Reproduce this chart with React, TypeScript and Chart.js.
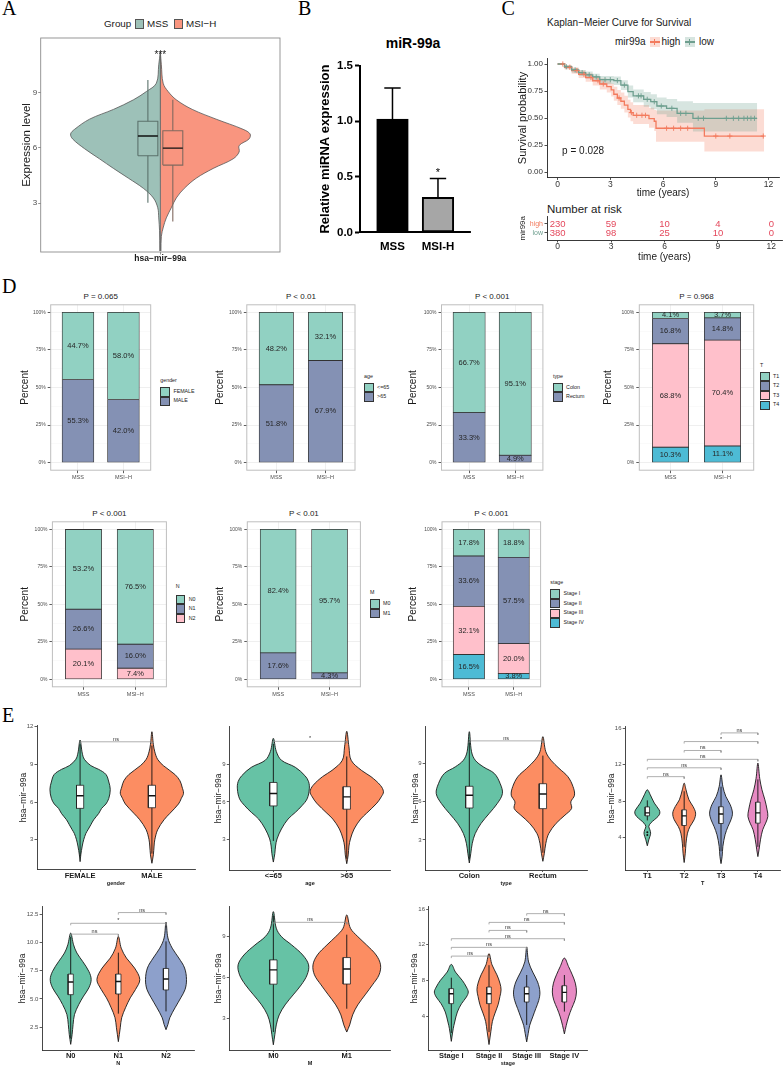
import React, { useEffect, useRef } from 'react';
import { Chart, registerables } from 'chart.js';

Chart.register(...registerables);

const SANS = '"Liberation Sans", Arial, Helvetica, sans-serif';
const SERIF = '"Liberation Serif", "Times New Roman", serif';
Chart.defaults.font.family = SANS;

/* ============================ DATA ============================ */
// ---- Panel A : split violin ----
const A_GROUPS = ['MSS', 'MSI\u2212H'];
const A_XLABEL = ['hsa\u2212mir\u221299a'];
const A_YTICKS = [3, 6, 9];
const A_MSS_Y = [0.4, 1.5, 2.2, 2.75, 3.28, 3.8, 4.35, 4.88, 5.4, 5.95, 6.48, 6.75, 7.0, 7.55, 8.08, 8.6, 9.05, 9.5, 10.5, 11.2];
const A_MSS_W = [0.3, 0.4, 0.8, 1.3, 3.5, 8.5, 16, 23.5, 30.5, 38, 44, 45, 43, 35.5, 23.5, 13.5, 7, 2, 0.8, 0];
const A_MSIH_Y = [0.4, 1.2, 1.7, 2.2, 2.75, 3.28, 3.8, 4.35, 4.88, 5.4, 5.77, 6.12, 6.48, 6.75, 7.0, 7.55, 8.08, 8.6, 9.05, 9.5, 10.5, 11.2];
const A_MSIH_W = [0.3, 0.5, 1.5, 3, 5.5, 8, 12, 18, 26.5, 36.5, 39.5, 39.5, 44.5, 45, 41.5, 28, 16, 8, 3.9, 1.4, 0.5, 0];
const A_BOX_MSS = [3.02, 5.57, 6.64, 7.44, 9.68]; // lo, q1, median, q3, hi
const A_BOX_MSIH = [2.0, 5.06, 5.98, 6.92, 8.6];
const A_SIG = '***';

// ---- Panel B : bar chart ----
const B_CATS = ['MSS', 'MSI-H'];
const B_MEAN = [1.02, 0.315];
const B_ERR = [0.28, 0.17];
const B_SIG = ['', '*'];
const B_YTICKS = [0, 0.5, 1.0, 1.5];

// ---- Panel C : Kaplan-Meier ----
const KM_XTICKS = [0, 3, 6, 9, 12];
const KM_YTICKS = [0, 0.25, 0.5, 0.75, 1.0];
const HIGH_T = [0, 0.4, 0.8, 1.2, 1.6, 2.0, 2.4, 2.8, 3.05, 3.2, 3.4, 3.6, 3.8, 4.0, 4.15, 4.3, 5.2, 5.5, 5.6, 8.35, 11.75];
const HIGH_S = [1.0, 0.97, 0.94, 0.905, 0.875, 0.845, 0.815, 0.79, 0.76, 0.72, 0.685, 0.655, 0.62, 0.58, 0.55, 0.525, 0.495, 0.47, 0.405, 0.333, 0.333];
const HIGH_U = [1.0, 0.99, 0.965, 0.94, 0.915, 0.89, 0.865, 0.84, 0.82, 0.79, 0.76, 0.735, 0.705, 0.67, 0.645, 0.62, 0.595, 0.575, 0.57, 0.58, 0.58];
const HIGH_L = [1.0, 0.95, 0.91, 0.87, 0.835, 0.8, 0.765, 0.735, 0.7, 0.66, 0.62, 0.585, 0.55, 0.505, 0.47, 0.445, 0.41, 0.38, 0.28, 0.19, 0.19];
const LOW_T = [0, 0.4, 0.8, 1.2, 1.6, 2.0, 2.4, 3.2, 3.6, 4.0, 4.3, 4.9, 5.3, 5.65, 6.2, 6.8, 7.7, 11.35];
const LOW_S = [1.0, 0.975, 0.945, 0.92, 0.9, 0.88, 0.855, 0.846, 0.805, 0.745, 0.705, 0.673, 0.651, 0.611, 0.59, 0.543, 0.497, 0.497];
const LOW_U = [1.0, 0.99, 0.965, 0.945, 0.93, 0.91, 0.89, 0.885, 0.85, 0.8, 0.765, 0.74, 0.72, 0.69, 0.675, 0.655, 0.64, 0.64];
const LOW_L = [1.0, 0.955, 0.92, 0.89, 0.865, 0.845, 0.815, 0.805, 0.76, 0.69, 0.645, 0.605, 0.58, 0.535, 0.51, 0.455, 0.375, 0.375];
const HIGH_CENS_T = [0.3, 0.7, 1.1, 1.5, 1.9, 2.3, 2.6, 3.5, 4.2, 4.5, 4.8, 5.0, 6.2, 6.6, 7.0, 7.4, 9.0, 9.8, 11.7];
const HIGH_CENS_S = [1.0, 0.97, 0.94, 0.905, 0.875, 0.845, 0.815, 0.685, 0.55, 0.525, 0.525, 0.525, 0.405, 0.405, 0.405, 0.405, 0.333, 0.333, 0.333];
const LOW_CENS_T = [0.5, 1.0, 1.4, 1.8, 2.2, 2.7, 3.0, 3.4, 3.8, 4.6, 4.75, 5.1, 5.5, 5.9, 6.5, 7.0, 7.3, 8.0, 8.3, 9.6, 10.0, 10.3, 10.6, 10.8, 11.0, 11.2];
const LOW_CENS_S = [0.975, 0.945, 0.92, 0.9, 0.88, 0.855, 0.855, 0.846, 0.805, 0.705, 0.705, 0.673, 0.651, 0.611, 0.59, 0.543, 0.543, 0.497, 0.497, 0.497, 0.497, 0.497, 0.497, 0.497, 0.497, 0.497];
const KM_PVAL = 'p = 0.028';
const RISK_GROUPS = ['high', 'low'];
const RISK_T = [0, 3, 6, 9, 12];
const RISK_HIGH = [230, 59, 10, 4, 0];
const RISK_LOW = [380, 98, 25, 10, 0];

// ---- Panel D : stacked percent bars ----
const D_GROUPS = ['MSS', 'MSI\u2212H'];
const D_YMAJOR = [0, 25, 50, 75, 100];
const D_YMINOR = [12.5, 37.5, 62.5, 87.5];
const D_TITLES = ['P = 0.065', 'P < 0.01', 'P < 0.001', 'P = 0.968', 'P < 0.001', 'P < 0.01', 'P < 0.001'];
const D_GENDER = ['FEMALE', 'MALE'];
const D_GENDER_V = [[44.7, 58.0], [55.3, 42.0]];
const D_AGE = ['<=65', '>65'];
const D_AGE_V = [[48.2, 32.1], [51.8, 67.9]];
const D_TYPE = ['Colon', 'Rectum'];
const D_TYPE_V = [[66.7, 95.1], [33.3, 4.9]];
const D_T = ['T1', 'T2', 'T3', 'T4'];
const D_T_V = [[4.1, 3.7], [16.8, 14.8], [68.8, 70.4], [10.3, 11.1]];
const D_N = ['N0', 'N1', 'N2'];
const D_N_V = [[53.2, 76.5], [26.6, 16.0], [20.1, 7.4]];
const D_M = ['M0', 'M1'];
const D_M_V = [[82.4, 95.7], [17.6, 4.3]];
const D_STAGE = ['Stage I', 'Stage II', 'Stage III', 'Stage IV'];
const D_STAGE_V = [[17.8, 18.8], [33.6, 57.5], [32.1, 20.0], [16.5, 3.8]];

// ---- Panel E : violins (half-widths in hundredths of a category) ----
const E1_CATS = ['FEMALE', 'MALE'];
const E1_YTICKS = [3, 6, 9, 12];
const E1_Y = [[1.26, 1.8, 2.5, 3.0, 3.5, 3.8, 4.2, 4.6, 5.1, 5.5, 5.85, 6.3, 7.0, 7.6, 8.2, 8.6, 8.9, 9.4, 9.9, 10.94],
  [1.13, 1.8, 2.5, 3.0, 3.8, 4.6, 5.1, 5.85, 6.3, 6.7, 7.2, 7.7, 8.2, 8.9, 9.4, 10.0, 10.6, 11.6]];
const E1_W = [[0, 1, 3, 5, 8, 11, 15, 19, 26, 30, 36, 40, 42, 40, 36, 26, 15, 6, 3, 0],
  [0, 2, 3, 4, 8, 17, 25, 37, 41, 44, 42, 39, 32, 16, 8, 4, 2, 0]];
const E1_BOX = [[1.7, 5.5, 6.51, 7.34, 10.6], [1.9, 5.55, 6.51, 7.34, 10.5]];
const E1_BR = [[1, 2, 10.8, 'ns']];

const E2_CATS = ['<=65', '>65'];
const E2_YTICKS = [3, 6, 9];
const E2_Y = [[1.23, 1.9, 2.5, 3.06, 3.85, 4.64, 5.17, 5.7, 6.24, 7.03, 7.6, 8.08, 8.74, 9.3, 10.0, 11.04],
  [1.1, 1.8, 2.5, 3.06, 3.85, 4.64, 5.1, 5.9, 6.4, 6.8, 7.3, 8.0, 8.5, 9.3, 10.36, 11.6]];
const E2_W = [[0, 2, 3, 5, 11, 20, 30, 39, 46, 49, 48, 43, 30, 11, 4, 0],
  [0, 2, 3, 5, 10, 19, 27, 41, 47, 50, 46, 33, 20, 6, 3, 0]];
const E2_BOX = [[2.9, 5.68, 6.67, 7.54, 10.6], [1.5, 5.42, 6.4, 7.2, 9.6]];
const E2_BR = [[1, 2, 10.8, '*']];

const E3_CATS = ['Colon', 'Rectum'];
const E3_YTICKS = [3, 6, 9];
const E3_Y = [[1.2, 1.96, 2.74, 3.5, 4.3, 5.07, 5.85, 6.63, 7.4, 8.2, 8.72, 9.24, 9.9, 11.47],
  [1.33, 1.96, 2.74, 3.5, 4.3, 4.94, 5.46, 5.98, 6.5, 7.17, 7.95, 8.6, 9.24, 9.9, 11.08]];
const E3_W = [[0, 2, 4, 8, 16, 27, 38, 45, 42, 34, 19, 8, 3, 0],
  [0, 2, 4, 8, 18, 30, 39, 38, 43, 41, 34, 22, 11, 4, 0]];
const E3_BOX = [[1.5, 5.5, 6.5, 7.2, 10.8], [2.0, 5.45, 6.6, 7.4, 9.6]];
const E3_BR = [[1, 2, 10.75, 'ns']];

const E4_CATS = ['T1', 'T2', 'T3', 'T4'];
const E4_YTICKS = [4, 8, 12, 16];
const E4_Y = [[3.12, 3.77, 4.14, 4.5, 4.87, 5.24, 5.6, 5.97, 6.33, 6.7, 7.06, 7.8, 8.71, 9.26],
  [1.28, 2.3, 3.4, 4.5, 5.24, 5.97, 6.7, 7.43, 8.16, 9.26, 9.99],
  [1.16, 1.96, 3.05, 4.33, 5.24, 5.97, 6.7, 7.62, 8.53, 9.62, 10.9],
  [1.93, 2.67, 3.77, 4.87, 5.6, 6.33, 7.06, 8.16, 9.26, 10.5, 12.19]];
const E4_W = [[0, 4, 7, 9, 7, 4, 9, 19, 29, 34, 32, 19, 8, 0],
  [0, 3, 5, 9, 16, 27, 31, 24, 13, 5, 0],
  [0, 3, 5, 11, 19, 27, 31, 25, 13, 5, 0],
  [0, 3, 7, 13, 21, 27, 25, 19, 11, 5, 0]];
const E4_BOX = [[5.9, 6.4, 6.73, 7.38, 8.1], [3.0, 5.34, 6.4, 7.06, 9.1], [2.5, 5.56, 6.6, 7.4, 9.6], [3.0, 5.6, 6.73, 7.9, 10.4]];
const E4_OUT = [[4.3, 4.6], [], [], []];
const E4_BR = [[1, 2, 10.7, 'ns'], [1, 3, 11.67, 'ns'], [1, 4, 12.6, 'ns'], [2, 3, 13.57, 'ns'], [2, 4, 14.55, '*'], [3, 4, 15.5, 'ns']];

const E5_CATS = ['N0', 'N1', 'N2'];
const E5_YTICKS = [2.5, 5, 7.5, 10, 12.5];
const E5_Y = [[0.98, 1.86, 2.74, 3.63, 4.51, 5.25, 5.98, 6.72, 7.45, 8.33, 9.07, 9.8, 10.83],
  [1.22, 2.45, 3.34, 4.22, 5.1, 5.84, 6.72, 7.74, 8.62, 9.5, 10.54],
  [2.28, 2.74, 3.34, 4.22, 5.1, 5.84, 6.72, 7.74, 8.62, 9.5, 10.4, 11.8]];
const E5_W = [[0, 3, 5, 8, 17, 27, 38, 43, 38, 25, 13, 6, 0],
  [0, 4, 7, 15, 25, 36, 45, 34, 17, 6, 0],
  [0, 4, 8, 19, 31, 40, 43, 39, 27, 13, 4, 0]];
const E5_BOX = [[1.5, 5.38, 6.5, 7.2, 10.5], [3.7, 5.44, 6.55, 7.2, 9.1], [3.9, 5.8, 6.77, 7.7, 10.1]];
const E5_BR = [[1, 2, 10.74, 'ns'], [1, 3, 11.7, '*'], [2, 3, 12.65, 'ns']];

const E6_CATS = ['M0', 'M1'];
const E6_YTICKS = [3, 6, 9];
const E6_Y = [[1.07, 1.8, 2.52, 3.25, 3.98, 4.71, 5.44, 6.17, 6.9, 7.62, 8.35, 8.96, 9.57, 10.78],
  [2.0, 2.52, 3.25, 3.98, 4.71, 5.44, 6.17, 6.9, 7.62, 8.35, 8.96, 9.57, 10.54]];
const E6_W = [[0, 2, 4, 8, 16, 27, 38, 46, 48, 40, 25, 11, 4, 0],
  [0, 4, 8, 15, 25, 35, 44, 46, 40, 27, 15, 5, 0]];
const E6_BOX = [[2.0, 5.49, 6.53, 7.26, 10.5], [3.7, 5.5, 6.6, 7.43, 9.1]];
const E6_BR = [[1, 2, 10.0, 'ns']];

const E7_CATS = ['Stage I', 'Stage II', 'Stage III', 'Stage IV'];
const E7_YTICKS = [4, 8, 12, 16];
const E7_Y = [[1.16, 2.58, 3.33, 4.45, 5.38, 6.13, 6.69, 7.25, 8.0, 8.93, 9.79],
  [0.8, 2.28, 3.4, 4.33, 5.26, 6.19, 6.94, 7.69, 8.62, 9.74, 11.0],
  [1.1, 2.03, 2.96, 3.9, 4.83, 5.76, 6.69, 7.81, 8.93, 10.07, 11.75],
  [2.0, 2.96, 3.9, 4.83, 5.76, 6.69, 7.69, 8.62, 9.55, 10.5]];
const E7_W = [[0, 5, 9, 16, 27, 40, 45, 40, 29, 11, 0],
  [0, 5, 9, 16, 24, 29, 32, 29, 21, 8, 0],
  [0, 4, 8, 16, 24, 32, 35, 29, 16, 5, 0],
  [0, 5, 11, 19, 28, 32, 29, 21, 11, 0]];
const E7_BOX = [[2.1, 5.39, 6.5, 7.07, 8.3], [2.2, 5.39, 6.5, 7.25, 9.7], [3.0, 5.57, 6.5, 7.25, 8.6], [4.5, 5.57, 6.65, 7.4, 8.6]];
const E7_BR = [[1, 2, 10.72, 'ns'], [1, 3, 11.7, 'ns'], [1, 4, 12.67, 'ns'], [2, 3, 13.6, 'ns'], [2, 4, 14.5, 'ns'], [3, 4, 15.48, 'ns']];

/* ============================ STYLE ============================ */
const A_COLORS = ['#9DC1B8', '#F9957F'];
const A_BOX_LINE = ['#5B716B', '#80695F'];
const HIGH_C = '#F37B5E';
const LOW_C = '#6E9F8F';
const RISK_C = '#E4485C';
const NPG2 = ['#91D1C2', '#8491B4'];
const NPG3 = ['#91D1C2', '#8491B4', '#FFC0CB'];
const NPG4 = ['#91D1C2', '#8491B4', '#FFC0CB', '#4DBBD5'];
const SET2 = ['#66C2A5', '#FC8D62', '#8DA0CB', '#E78AC3'];

type Frame = { L: number; T: number; R: number; B: number; cl: number; ct: number; cr: number; cb: number };
const fr = (L: number, T: number, R: number, B: number, cl: number, ct: number, cr: number, cb: number): Frame => ({ L, T, R, B, cl, ct, cr, cb });

const A_F = fr(40.7, 38, 280, 252, 20, 28, 288, 266);
const B_F = fr(360, 65.7, 470, 232.4, 317, 55, 478, 256);
const KM_F = fr(547, 58.6, 782, 177.4, 516, 50, 784, 200);
const RISK_F = fr(547, 216.5, 782, 240, 518, 208, 784, 263);
const D_F = [
  fr(50.7, 304.8, 150.7, 470.2, 19, 296, 157, 484),
  fr(246.8, 304.8, 355, 470.2, 214, 296, 361, 484),
  fr(441.5, 304.8, 542.9, 470.2, 408, 296, 549, 484),
  fr(639.3, 304.8, 753.7, 470.2, 603, 296, 759, 484),
  fr(52.4, 521.8, 166.4, 686.8, 19, 513, 172, 701),
  fr(247.3, 521.8, 360.4, 686.8, 214, 513, 366, 701),
  fr(442, 521.8, 540.6, 686.8, 408, 513, 546, 701),
];
const D_YTITLE_X = [25, 220, 413.7, 608.7, 25, 220, 413.7];

/* ============================ HELPERS ============================ */
const font = (size: number, weight: any = 'normal') => ({ size, weight, family: SANS, lineHeight: 1 });

function baseOpts(f: Frame) {
  return {
    responsive: false,
    maintainAspectRatio: false,
    animation: false,
    events: [],
    devicePixelRatio: 1,
    layout: { padding: { left: 0, top: f.T - f.ct, right: f.cr - f.R, bottom: 0 } },
    plugins: { legend: { display: false }, tooltip: { enabled: false }, title: { display: false } },
  };
}

function yTitle(text: string, size: number, cx: number, f: Frame, weight: any = 'normal', color = '#1A1A1A') {
  return { display: true, text, color, font: font(size, weight), padding: { top: cx - f.cl - size / 2, bottom: 0 } };
}
function xTitle(text: string, size: number, cy: number, f: Frame, weight: any = 'normal', color = '#1A1A1A') {
  return { display: true, text, color, font: font(size, weight), padding: { top: 0, bottom: f.cb - cy - size / 2 } };
}

function linScale(o: any) {
  const {
    min, max, ticks, label, forced, horiz, tickFont, tickColor = '#4D4D4D', tickLen = 2.5, pad = 1.5,
    line, gridColor, gridWidth = 0.8, markColor = '#333', markWidth = 0.8, title, stacked = false,
  } = o;
  return {
    type: 'linear',
    min,
    max,
    stacked,
    offset: false,
    afterBuildTicks: (s: any) => { s.ticks = ticks.map((v: number) => ({ value: v })); },
    afterFit: (s: any) => { if (horiz) s.height = forced; else s.width = forced; },
    ticks: { callback: (v: number) => label(v), font: tickFont, color: tickColor, padding: pad, autoSkip: false, maxRotation: 0, minRotation: 0 },
    grid: {
      display: true, offset: false, drawOnChartArea: !!gridColor, color: gridColor || 'rgba(0,0,0,0)', lineWidth: gridWidth,
      drawTicks: tickLen > 0, tickLength: tickLen, tickColor: markColor, tickWidth: markWidth,
    },
    border: line ? { display: true, color: line.color, width: line.width } : { display: false },
    title: title || { display: false },
  };
}

function textPlugin(items: any[]) {
  return {
    id: 'textMarks',
    afterDatasetsDraw(chart: any) {
      const ctx = chart.ctx;
      const xs = chart.scales.x;
      const ys = chart.scales.y;
      ctx.save();
      items.forEach((it: any) => {
        ctx.font = it.font;
        ctx.fillStyle = it.color || '#333';
        ctx.textAlign = it.align || 'center';
        ctx.textBaseline = it.baseline || 'middle';
        ctx.fillText(it.text, xs.getPixelForValue(it.x) + (it.dx || 0), ys.getPixelForValue(it.y) + (it.dy || 0));
      });
      ctx.restore();
    },
  };
}

function panelBorder(color: string, width: number) {
  return {
    id: 'panelBorder',
    afterDatasetsDraw(chart: any) {
      const { ctx, chartArea: a } = chart;
      ctx.save();
      ctx.strokeStyle = color;
      ctx.lineWidth = width;
      ctx.strokeRect(a.left, a.top, a.right - a.left, a.bottom - a.top);
      ctx.restore();
    },
  };
}

const barLabels = {
  id: 'barLabels',
  afterDatasetsDraw(chart: any) {
    const ctx = chart.ctx;
    ctx.save();
    ctx.font = `7.5px ${SANS}`;
    ctx.fillStyle = '#262626';
    ctx.textAlign = 'center';
    ctx.textBaseline = 'middle';
    chart.data.datasets.forEach((d: any, di: number) => {
      chart.getDatasetMeta(di).data.forEach((el: any, i: number) => {
        const p = el.getProps(['x', 'y', 'base'], true);
        ctx.fillText(d.data[i].y.toFixed(1) + '%', p.x, (p.y + p.base) / 2);
      });
    });
    ctx.restore();
  },
};

const seg = (pts: any[], color: string, width: number, order: number) => ({
  data: pts, showLine: true, borderColor: color, borderWidth: width, pointRadius: 0, fill: false, order,
});

/* ============================ BUILDERS ============================ */
function buildA(f: Frame) {
  const ds: any[] = [];
  const mss = A_MSS_Y.map((y, i) => ({ x: 1 - A_MSS_W[i] / 100, y }));
  const msih = A_MSIH_Y.map((y, i) => ({ x: 1 + A_MSIH_W[i] / 100, y }));
  ds.push({ data: mss, showLine: true, fill: 'shape', backgroundColor: A_COLORS[0], borderColor: '#555', borderWidth: 0.8, pointRadius: 0, tension: 0.35, order: 9 });
  ds.push({ data: msih, showLine: true, fill: 'shape', backgroundColor: A_COLORS[1], borderColor: '#555', borderWidth: 0.8, pointRadius: 0, tension: 0.35, order: 9 });
  ds.push(seg([{ x: 1, y: A_MSS_Y[0] }, { x: 1, y: A_MSS_Y[A_MSS_Y.length - 1] }], '#555', 0.9, 8));
  [A_BOX_MSS, A_BOX_MSIH].forEach((b, i) => {
    const cx = 1 + (i === 0 ? -1 : 1) * 0.0625;
    const h = 0.05;
    const col = A_BOX_LINE[i];
    ds.push(seg([{ x: cx, y: b[0] }, { x: cx, y: b[1] }], col, 1.1, 5));
    ds.push(seg([{ x: cx, y: b[3] }, { x: cx, y: b[4] }], col, 1.1, 5));
    ds.push(seg([{ x: cx - h, y: b[1] }, { x: cx + h, y: b[1] }, { x: cx + h, y: b[3] }, { x: cx - h, y: b[3] }, { x: cx - h, y: b[1] }], col, 1.1, 4));
    ds.push(seg([{ x: cx - h, y: b[2] }, { x: cx + h, y: b[2] }], '#111', 1.4, 3));
  });
  return {
    type: 'scatter',
    data: { datasets: ds },
    options: {
      ...baseOpts(f),
      scales: {
        x: linScale({ min: 0.4, max: 1.6, ticks: [1], label: () => A_XLABEL[0], forced: f.cb - f.B, horiz: true, tickFont: font(8.5, 'bold'), tickColor: '#1A1A1A', tickLen: 2.5, pad: 0, markColor: '#777' }),
        y: linScale({ min: 0.35, max: 11.95, ticks: A_YTICKS, label: (v: number) => String(v), forced: f.L - f.cl, tickFont: font(8), tickLen: 2.5, pad: 1, markColor: '#777', title: yTitle('Expression level', 11.5, 27, f) }),
      },
    },
    plugins: [panelBorder('#8C8C8C', 0.9), textPlugin([{ x: 1, y: 11.17, text: A_SIG, dy: 6, font: `10px ${SANS}`, color: '#1A1A1A', baseline: 'alphabetic' }])],
  };
}

function buildB(f: Frame) {
  const ds: any[] = [{
    type: 'bar', data: B_CATS.map((c, i) => ({ x: i + 1, y: B_MEAN[i] })),
    backgroundColor: ['#000000', '#A6A6A6'], borderColor: '#000', borderWidth: 2, borderSkipped: false, barThickness: 31.6, order: 1,
  }];
  B_CATS.forEach((c, i) => {
    const top = B_MEAN[i] + B_ERR[i];
    ds.push({ type: 'line', ...seg([{ x: i + 1, y: B_MEAN[i] }, { x: i + 1, y: top }], '#000', 1.5, 2) });
    ds.push({ type: 'line', ...seg([{ x: i + 1 - 0.18, y: top }, { x: i + 1 + 0.18, y: top }], '#000', 1.5, 2) });
  });
  const stars = B_SIG.map((s, i) => ({ x: i + 1, y: 0.5615, text: s, dy: 6.4, font: `11px ${SANS}`, color: '#000', baseline: 'alphabetic' }));
  return {
    type: 'bar',
    data: { datasets: ds },
    options: {
      ...baseOpts(f),
      scales: {
        x: linScale({ min: 0.286, max: 2.704, ticks: [1, 2], label: (v: number) => B_CATS[v - 1], forced: f.cb - f.B, horiz: true, tickFont: font(11.5, 'bold'), tickColor: '#000', tickLen: 0, pad: 8.85, line: { color: '#000', width: 2 } }),
        y: linScale({ min: 0, max: 1.5, ticks: B_YTICKS, label: (v: number) => v.toFixed(1), forced: f.L - f.cl, tickFont: font(11.5, 'bold'), tickColor: '#000', tickLen: 5, pad: 2, line: { color: '#000', width: 2 }, markColor: '#000', markWidth: 2, title: yTitle('Relative miRNA expression', 13, 325, f, 'bold', '#000') }),
      },
    },
    plugins: [textPlugin(stars)],
  };
}

function buildKM(f: Frame) {
  const pts = (T: number[], S: number[]) => T.map((t, i) => ({ x: t, y: S[i] }));
  const ds: any[] = [
    { data: pts(HIGH_T, HIGH_U), showLine: true, stepped: 'before', borderColor: 'rgba(0,0,0,0)', borderWidth: 0, pointRadius: 0, fill: false, order: 10 },
    { data: pts(HIGH_T, HIGH_L), showLine: true, stepped: 'before', borderColor: 'rgba(0,0,0,0)', borderWidth: 0, pointRadius: 0, fill: '-1', backgroundColor: 'rgba(246,128,100,0.28)', order: 9 },
    { data: pts(LOW_T, LOW_U), showLine: true, stepped: 'before', borderColor: 'rgba(0,0,0,0)', borderWidth: 0, pointRadius: 0, fill: false, order: 8 },
    { data: pts(LOW_T, LOW_L), showLine: true, stepped: 'before', borderColor: 'rgba(0,0,0,0)', borderWidth: 0, pointRadius: 0, fill: '-1', backgroundColor: 'rgba(110,160,143,0.28)', order: 7 },
    { data: pts(HIGH_T, HIGH_S), showLine: true, stepped: 'before', borderColor: HIGH_C, borderWidth: 1.3, pointRadius: 0, fill: false, order: 3 },
    { data: pts(LOW_T, LOW_S), showLine: true, stepped: 'before', borderColor: LOW_C, borderWidth: 1.3, pointRadius: 0, fill: false, order: 2 },
    { data: pts(HIGH_CENS_T, HIGH_CENS_S), showLine: false, pointStyle: 'cross', pointRadius: 2.6, borderColor: HIGH_C, borderWidth: 0.9, order: 1 },
    { data: pts(LOW_CENS_T, LOW_CENS_S), showLine: false, pointStyle: 'cross', pointRadius: 2.6, borderColor: LOW_C, borderWidth: 0.9, order: 1 },
  ];
  return {
    type: 'scatter',
    data: { datasets: ds },
    options: {
      ...baseOpts(f),
      scales: {
        x: linScale({ min: -0.6, max: 12.6, ticks: KM_XTICKS, label: (v: number) => String(v), forced: f.cb - f.B, horiz: true, tickFont: font(8.5), tickColor: '#333', tickLen: 2.5, pad: 0.35, line: { color: '#222', width: 0.9 }, markColor: '#222', title: xTitle('time (years)', 10, 193, f) }),
        y: linScale({ min: -0.05, max: 1.05, ticks: KM_YTICKS, label: (v: number) => v.toFixed(2), forced: f.L - f.cl, tickFont: font(8), tickColor: '#333', tickLen: 2.5, pad: 1.5, line: { color: '#222', width: 0.9 }, markColor: '#222', title: yTitle('Survival probability', 11, 523, f) }),
      },
    },
    plugins: [textPlugin([{ x: 0.26, y: 0.194, text: KM_PVAL, font: `10px ${SANS}`, color: '#1A1A1A', align: 'left', baseline: 'middle' }])],
  };
}

function buildRisk(f: Frame) {
  const items: any[] = [];
  RISK_T.forEach((t, i) => {
    items.push({ x: t, y: 2, text: String(RISK_HIGH[i]), font: `9.5px ${SANS}`, color: RISK_C });
    items.push({ x: t, y: 1, text: String(RISK_LOW[i]), font: `9.5px ${SANS}`, color: RISK_C });
  });
  return {
    type: 'scatter',
    data: { datasets: [{ data: [] }] },
    options: {
      ...baseOpts(f),
      scales: {
        x: linScale({ min: -0.6, max: 12.6, ticks: KM_XTICKS, label: (v: number) => String(v), forced: f.cb - f.B, horiz: true, tickFont: font(8.5), tickColor: '#333', tickLen: 2.5, pad: 0.25, line: { color: '#222', width: 0.9 }, markColor: '#222', title: xTitle('time (years)', 10, 257, f) }),
        y: linScale({ min: 0.22, max: 2.83, ticks: [1, 2], label: (v: number) => (v === 2 ? RISK_GROUPS[0] : RISK_GROUPS[1]), forced: f.L - f.cl, tickFont: font(7), tickColor: (c: any) => (c.tick && c.tick.value === 2 ? HIGH_C : LOW_C), tickLen: 2.5, pad: 1.5, line: { color: '#222', width: 0.9 }, markColor: '#222', title: yTitle('mir99a', 8, 523, f) }),
      },
    },
    plugins: [textPlugin(items)],
  };
}

function buildD(f: Frame, levels: string[], values: number[][], colors: string[], row: number, ytx: number) {
  const W = f.R - f.L;
  const bw = (0.7 * W) / 2.2;
  const datasets = levels.map((lv, li) => ({
    type: 'bar', label: lv,
    data: D_GROUPS.map((g, gi) => ({ x: gi + 1, y: values[li][gi] })),
    backgroundColor: colors[li], borderColor: '#333333', borderWidth: 0.8, borderSkipped: false, barThickness: bw,
  })).reverse();
  const xc = row === 1 ? 477.3 : 694.5;
  const isMajor = (c: any) => c.tick && D_YMAJOR.indexOf(c.tick.value) >= 0;
  const yt = [...D_YMAJOR, ...D_YMINOR].sort((a, b) => a - b);
  return {
    type: 'bar',
    data: { datasets },
    options: {
      ...baseOpts(f),
      scales: {
        x: linScale({ min: 0.4, max: 2.6, ticks: [1, 2], label: (v: number) => D_GROUPS[v - 1], forced: f.cb - f.B, horiz: true, tickFont: font(5.5), tickLen: 3, pad: xc - f.B - 3 - 2.75, gridColor: '#EBEBEB', gridWidth: 0.8, markColor: '#333', stacked: true }),
        y: linScale({
          min: -5, max: 105, ticks: yt, label: (v: number) => (D_YMAJOR.indexOf(v) >= 0 ? v + '%' : ''), forced: f.L - f.cl,
          tickFont: font(5), tickLen: 3, pad: 2, gridColor: (c: any) => (isMajor(c) ? '#EBEBEB' : '#F5F5F5'), gridWidth: (c: any) => (isMajor(c) ? 0.8 : 0.5),
          markColor: (c: any) => (isMajor(c) ? '#333' : 'rgba(0,0,0,0)'), stacked: true, title: yTitle('Percent', 10, ytx, f),
        }),
      },
    },
    plugins: [barLabels, panelBorder('#BEBEBE', 1)],
  };
}

function buildE(s: any) {
  const f: Frame = s.f;
  const n = s.cats.length;
  const pxY = (f.B - f.T) / (s.yMax - s.yMin);
  const tip = 2 / pxY;
  const ds: any[] = [];
  s.cats.forEach((c: string, i: number) => {
    const cx = i + 1;
    const Y: number[] = s.ys[i];
    const Wd: number[] = s.ws[i];
    const right = Y.map((y, k) => ({ x: cx + Wd[k] / 100, y }));
    const left = Y.slice(0, -1).map((y, k) => ({ x: cx - Wd[k] / 100, y })).reverse();
    ds.push({ data: [...right, ...left], showLine: true, fill: 'shape', backgroundColor: SET2[i], borderColor: '#1A1A1A', borderWidth: 0.9, pointRadius: 0, tension: 0.35, order: 9 });
    const b = s.boxes[i];
    const h = s.half;
    ds.push(seg([{ x: cx, y: b[0] }, { x: cx, y: b[4] }], '#111', 0.9, 6));
    ds.push({ data: [{ x: cx - h, y: b[1] }, { x: cx + h, y: b[1] }, { x: cx + h, y: b[3] }, { x: cx - h, y: b[3] }, { x: cx - h, y: b[1] }], showLine: true, fill: 'shape', backgroundColor: '#FFFFFF', borderColor: '#222', borderWidth: 0.8, pointRadius: 0, order: 5 });
    ds.push(seg([{ x: cx - h, y: b[2] }, { x: cx + h, y: b[2] }], '#111', 1.4, 4));
    const out = s.out ? s.out[i] : [];
    if (out.length) ds.push({ data: out.map((v: number) => ({ x: cx, y: v })), showLine: false, pointRadius: 1, backgroundColor: '#111', borderWidth: 0, order: 3 });
  });
  const items: any[] = [];
  s.br.forEach((br: any[]) => {
    const [a, bb, y, t] = br;
    ds.push(seg([{ x: a, y: y - tip }, { x: a, y }, { x: bb, y }, { x: bb, y: y - tip }], '#8C8C8C', 0.7, 1));
    items.push({ x: (a + bb) / 2, y, text: t, dy: -1, font: `5.5px ${SANS}`, color: '#333', baseline: 'alphabetic' });
  });
  return {
    type: 'scatter',
    data: { datasets: ds },
    options: {
      ...baseOpts(f),
      scales: {
        x: linScale({ min: 0.4, max: n + 0.6, ticks: s.cats.map((_: any, i: number) => i + 1), label: (v: number) => s.cats[v - 1], forced: f.cb - f.B, horiz: true, tickFont: font(7.5, 'bold'), tickColor: '#1A1A1A', tickLen: 2, pad: s.xlc - f.B - 2 - 3.75, line: { color: '#333', width: 0.9 }, markColor: '#333', title: xTitle(s.xTitle, 5.5, s.xtc, f, 'bold') }),
        y: linScale({ min: s.yMin, max: s.yMax, ticks: s.yTicks, label: (v: number) => (s.yDec ? v.toFixed(s.yDec) : String(v)), forced: f.L - f.cl, tickFont: font(6), tickLen: 2.5, pad: 1.2, line: { color: '#333', width: 0.9 }, markColor: '#333', title: yTitle('hsa\u2212mir\u221299a', 8.5, s.ytx, f) }),
      },
    },
    plugins: [textPlugin(items)],
  };
}

const E_SPECS = [
  { f: fr(37, 725.2, 195, 869.8, 18, 717, 201, 887), cats: E1_CATS, ys: E1_Y, ws: E1_W, boxes: E1_BOX, br: E1_BR, yMin: 0.61, yMax: 12.12, yTicks: E1_YTICKS, xTitle: 'gender', ytx: 23.3, xtc: 883.3, xlc: 875.5, half: 0.05 },
  { f: fr(229.3, 726.7, 390.8, 870, 213, 718, 397, 887), cats: E2_CATS, ys: E2_Y, ws: E2_W, boxes: E2_BOX, br: E2_BR, yMin: 0.6, yMax: 11.96, yTicks: E2_YTICKS, xTitle: 'age', ytx: 218.3, xtc: 883.3, xlc: 875.5, half: 0.05 },
  { f: fr(425.2, 726.7, 587, 870, 410, 718, 593, 887), cats: E3_CATS, ys: E3_Y, ws: E3_W, boxes: E3_BOX, br: E3_BR, yMin: 0.65, yMax: 11.86, yTicks: E3_YTICKS, xTitle: 'type', ytx: 415.3, xtc: 883.3, xlc: 875.5, half: 0.05 },
  { f: fr(625.2, 726.7, 783, 870, 607, 718, 784, 887), cats: E4_CATS, ys: E4_Y, ws: E4_W, boxes: E4_BOX, out: E4_OUT, br: E4_BR, yMin: 0.46, yMax: 16.18, yTicks: E4_YTICKS, xTitle: 'T', ytx: 612, xtc: 883.3, xlc: 875.5, half: 0.06 },
  { f: fr(42.1, 906.7, 194.6, 1050, 17, 898, 201, 1066), cats: E5_CATS, ys: E5_Y, ws: E5_W, boxes: E5_BOX, br: E5_BR, yMin: 0.48, yMax: 13.17, yTicks: E5_YTICKS, yDec: 1, xTitle: 'N', ytx: 22.7, xtc: 1063, xlc: 1055.7, half: 0.055 },
  { f: fr(229.3, 906.7, 390.8, 1050, 213, 898, 397, 1066), cats: E6_CATS, ys: E6_Y, ws: E6_W, boxes: E6_BOX, br: E6_BR, yMin: 0.69, yMax: 11.14, yTicks: E6_YTICKS, xTitle: 'M', ytx: 218.3, xtc: 1063, xlc: 1055.7, half: 0.05 },
  { f: fr(428.7, 906.7, 587, 1050, 409, 898, 593, 1066), cats: E7_CATS, ys: E7_Y, ws: E7_W, boxes: E7_BOX, br: E7_BR, yMin: 0.19, yMax: 16.26, yTicks: E7_YTICKS, xTitle: 'stage', ytx: 414.7, xtc: 1063, xlc: 1055.7, half: 0.06 },
];

const D_SPECS = [
  { levels: D_GENDER, values: D_GENDER_V, colors: NPG2, row: 1, leg: { title: 'gender', x: 160.3, ty: 380.7, top: 387 } },
  { levels: D_AGE, values: D_AGE_V, colors: NPG2, row: 1, leg: { title: 'age', x: 364, ty: 376.7, top: 382.7 } },
  { levels: D_TYPE, values: D_TYPE_V, colors: NPG2, row: 1, leg: { title: 'type', x: 553, ty: 376.7, top: 382.7 } },
  { levels: D_T, values: D_T_V, colors: NPG4, row: 1, leg: { title: 'T', x: 760, ty: 365.7, top: 371.7 } },
  { levels: D_N, values: D_N_V, colors: NPG3, row: 2, leg: { title: 'N', x: 175.7, ty: 587.3, top: 594.7 } },
  { levels: D_M, values: D_M_V, colors: NPG2, row: 2, leg: { title: 'M', x: 370, ty: 592.7, top: 599.3 } },
  { levels: D_STAGE, values: D_STAGE_V, colors: NPG4, row: 2, leg: { title: 'stage', x: 550.3, ty: 583.3, top: 589.3 } },
];

/* ============================ COMPONENTS ============================ */
function ChartBox({ f, build }: { f: Frame; build: () => any }) {
  const ref = useRef<HTMLCanvasElement | null>(null);
  const w = f.cr - f.cl;
  const h = f.cb - f.ct;
  useEffect(() => {
    const chart = new Chart(ref.current as HTMLCanvasElement, build());
    return () => chart.destroy();
  }, []);
  return <canvas ref={ref} width={w} height={h} style={{ position: 'absolute', left: f.cl, top: f.ct, width: w, height: h }} />;
}

function Txt({ x, y, s, children, a = 'start', w = 'normal', c = '#1A1A1A', fam = SANS }: any) {
  const tx = a === 'middle' ? '-50%' : a === 'end' ? '-100%' : '0';
  return (
    <div style={{ position: 'absolute', left: x, top: y, transform: `translate(${tx}, -50%)`, fontSize: s, lineHeight: `${s}px`, fontWeight: w, color: c, fontFamily: fam, whiteSpace: 'nowrap' }}>
      {children}
    </div>
  );
}

function Letter({ x, base, ch }: any) {
  return <div style={{ position: 'absolute', left: x, top: base - 16.75, fontSize: 20, lineHeight: '20px', fontFamily: SERIF, color: '#000' }}>{ch}</div>;
}

function Box({ x, y, s, bg, bc }: any) {
  return <div style={{ position: 'absolute', left: x, top: y, width: s, height: s, background: bg, border: `0.8px solid ${bc}`, boxSizing: 'border-box' }} />;
}

function DLegend({ x, ty, top, title, labels, colors }: any) {
  const k = 9.6;
  return (
    <>
      <Txt x={x} y={ty} s={5.3}>{title}</Txt>
      {labels.map((lb: string, i: number) => (
        <React.Fragment key={lb}>
          <Box x={x} y={top + i * k} s={k} bg={colors[i]} bc="#333" />
          <Txt x={x + k + 3.5} y={top + i * k + k / 2} s={5.3}>{lb}</Txt>
        </React.Fragment>
      ))}
    </>
  );
}

function KMKey({ x, color, bg }: any) {
  return (
    <>
      <div style={{ position: 'absolute', left: x, top: 37.3, width: 9.5, height: 9.5, background: bg }} />
      <div style={{ position: 'absolute', left: x, top: 41.4, width: 9.5, height: 1.3, background: color }} />
      <div style={{ position: 'absolute', left: x + 4.1, top: 39.3, width: 1.2, height: 5.5, background: color }} />
    </>
  );
}

export default function App() {
  return (
    <div style={{ position: 'absolute', left: 0, top: 0, width: 784, height: 1067, background: '#FFFFFF', overflow: 'hidden', fontFamily: SANS }}>
      <Letter x={2} base={15} ch="A" />
      <Letter x={298} base={15} ch="B" />
      <Letter x={501.5} base={15} ch="C" />
      <Letter x={2} base={293} ch="D" />
      <Letter x={2} base={721.7} ch="E" />

      {/* Panel A */}
      <Txt x={104} y={24} s={9.8}>Group</Txt>
      <Box x={135} y={19.3} s={9.4} bg={A_COLORS[0]} bc="#555" />
      <Txt x={147} y={24} s={9.8}>{A_GROUPS[0]}</Txt>
      <Box x={174} y={19.3} s={9.4} bg={A_COLORS[1]} bc="#555" />
      <Txt x={186} y={24} s={9.8}>{A_GROUPS[1]}</Txt>
      <ChartBox f={A_F} build={() => buildA(A_F)} />

      {/* Panel B */}
      <Txt x={413} y={43} s={14} w="bold" a="middle" c="#000">miR-99a</Txt>
      <ChartBox f={B_F} build={() => buildB(B_F)} />

      {/* Panel C */}
      <Txt x={547} y={23} s={10}>{'Kaplan\u2212Meier Curve for Survival'}</Txt>
      <Txt x={615} y={42} s={10}>mir99a</Txt>
      <KMKey x={650} color={HIGH_C} bg="rgba(246,128,100,0.28)" />
      <Txt x={661.5} y={42} s={10}>high</Txt>
      <KMKey x={685} color={LOW_C} bg="rgba(110,160,143,0.28)" />
      <Txt x={699} y={42} s={10}>low</Txt>
      <ChartBox f={KM_F} build={() => buildKM(KM_F)} />
      <Txt x={547} y={210} s={11.5}>Number at risk</Txt>
      <ChartBox f={RISK_F} build={() => buildRisk(RISK_F)} />

      {/* Panel D */}
      {D_SPECS.map((d, i) => {
        const f = D_F[i];
        return (
          <React.Fragment key={'d' + i}>
            <Txt x={(f.L + f.R) / 2} y={d.row === 1 ? 297 : 514} s={8} a="middle">{D_TITLES[i]}</Txt>
            <ChartBox f={f} build={() => buildD(f, d.levels, d.values, d.colors, d.row, D_YTITLE_X[i])} />
            <DLegend x={d.leg.x} ty={d.leg.ty} top={d.leg.top} title={d.leg.title} labels={d.levels} colors={d.colors} />
          </React.Fragment>
        );
      })}

      {/* Panel E */}
      {E_SPECS.map((s, i) => (
        <ChartBox key={'e' + i} f={s.f} build={() => buildE(s)} />
      ))}
    </div>
  );
}
